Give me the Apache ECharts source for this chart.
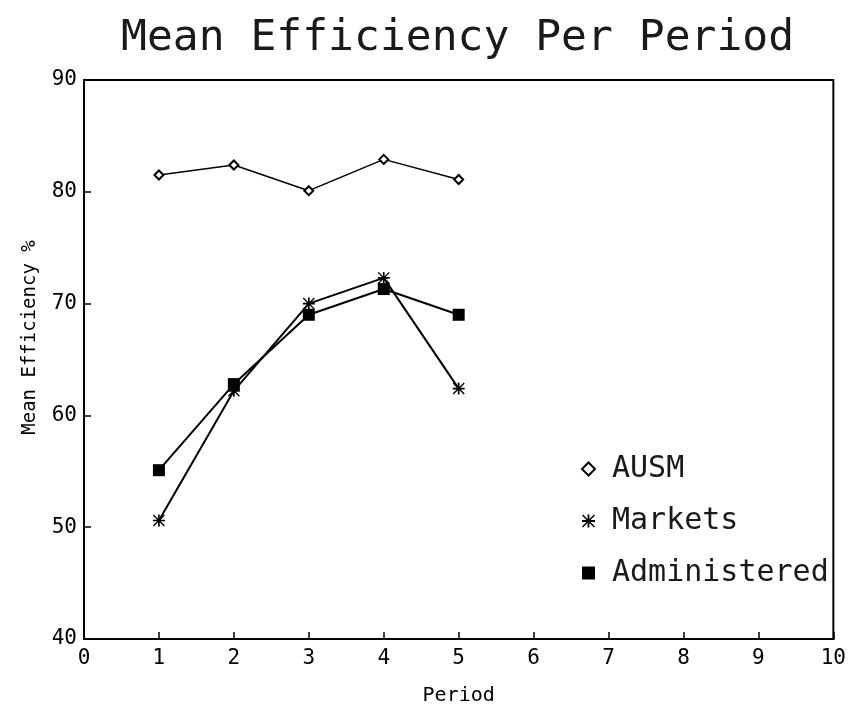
<!DOCTYPE html>
<html>
<head>
<meta charset="utf-8">
<style>
  html, body { margin: 0; padding: 0; background: #fff; }
  #chart { width: 849px; height: 711px; }
</style>
<script src="https://cdn.jsdelivr.net/npm/echarts@6/dist/echarts.min.js"></script>
</head>
<body>
<div id="chart"></div>
<script>
  // data
  var periods = [1, 2, 3, 4, 5]
  var ausm = [81.5, 82.4, 80.1, 82.9, 81.1]
  var markets = [50.6, 62.2, 70.0, 72.3, 62.4]
  var administered = [55.1, 62.8, 69.0, 71.3, 69.0]

  var font = 'DejaVu Sans Mono'
  // asterisk marker, 4 bars with the same winding so overlaps stay filled
  var star = 'path://M0,4.3 L10,4.3 L10,5.7 L0,5.7 Z M4.3,0 L5.7,0 L5.7,10 L4.3,10 Z ' +
    'M0,0.8 L0.8,0 L10,9.2 L9.2,10 Z M9.2,0 L10,0.8 L0.8,10 L0,9.2 Z'

  function pairs(ys) {
    return periods.map(function (p, i) { return [p, ys[i]] })
  }

  var chart = echarts.init(document.getElementById('chart'))
  chart.setOption({
    backgroundColor: '#fff',
    animation: false,
    title: {
      text: 'Mean Efficiency Per Period',
      left: 116,
      top: 12,
      textStyle: { fontFamily: font, fontSize: 43, fontWeight: 'normal', color: '#1a1a1a' }
    },
    grid: {
      left: 84,
      right: 11,
      top: 80,
      bottom: 68,
      show: true,
      borderColor: '#000',
      borderWidth: 2
    },
    legend: {
      orient: 'vertical',
      left: 576,
      top: 449,
      itemWidth: 13,
      itemHeight: 13,
      itemGap: 22,
      data: [
        { name: 'AUSM', icon: 'emptyDiamond', itemStyle: { borderWidth: 1.2 } },
        { name: 'Markets', icon: star },
        { name: 'Administered', icon: 'rect' }
      ],
      textStyle: { fontFamily: font, fontSize: 30, color: '#1a1a1a', padding: [0, 0, 0, 12] }
    },
    xAxis: {
      type: 'value',
      min: 0,
      max: 10,
      interval: 1,
      name: 'Period',
      nameLocation: 'middle',
      nameGap: 47,
      nameTextStyle: { fontFamily: font, fontSize: 20, color: '#000' },
      axisLine: { lineStyle: { color: '#000', width: 2 } },
      axisTick: { inside: true, length: 7, lineStyle: { color: '#000', width: 1.5 } },
      axisLabel: { fontFamily: font, fontSize: 21, color: '#000', margin: 9 },
      splitLine: { show: false }
    },
    yAxis: {
      type: 'value',
      min: 40,
      max: 90,
      interval: 10,
      name: 'Mean Efficiency %',
      nameLocation: 'middle',
      nameGap: 44,
      nameTextStyle: { fontFamily: font, fontSize: 19, color: '#000', padding: [0, 0, 0, 44] },
      axisLine: { lineStyle: { color: '#000', width: 2 } },
      axisTick: { inside: true, length: 7, lineStyle: { color: '#000', width: 1.5 } },
      axisLabel: { fontFamily: font, fontSize: 21, color: '#000', margin: 7 },
      splitLine: { show: false }
    },
    series: [
      {
        name: 'AUSM',
        type: 'line',
        data: pairs(ausm),
        symbol: 'emptyDiamond',
        symbolSize: 9,
        lineStyle: { color: '#000', width: 1.5 },
        itemStyle: { color: '#000', borderWidth: 1.5 }
      },
      {
        name: 'Markets',
        type: 'line',
        data: pairs(markets),
        symbol: star,
        symbolSize: 12,
        lineStyle: { color: '#000', width: 2 },
        itemStyle: { color: '#000' }
      },
      {
        name: 'Administered',
        type: 'line',
        data: pairs(administered),
        symbol: 'rect',
        symbolSize: 12,
        lineStyle: { color: '#000', width: 2 },
        itemStyle: { color: '#000' }
      }
    ]
  })
</script>
</body>
</html>
